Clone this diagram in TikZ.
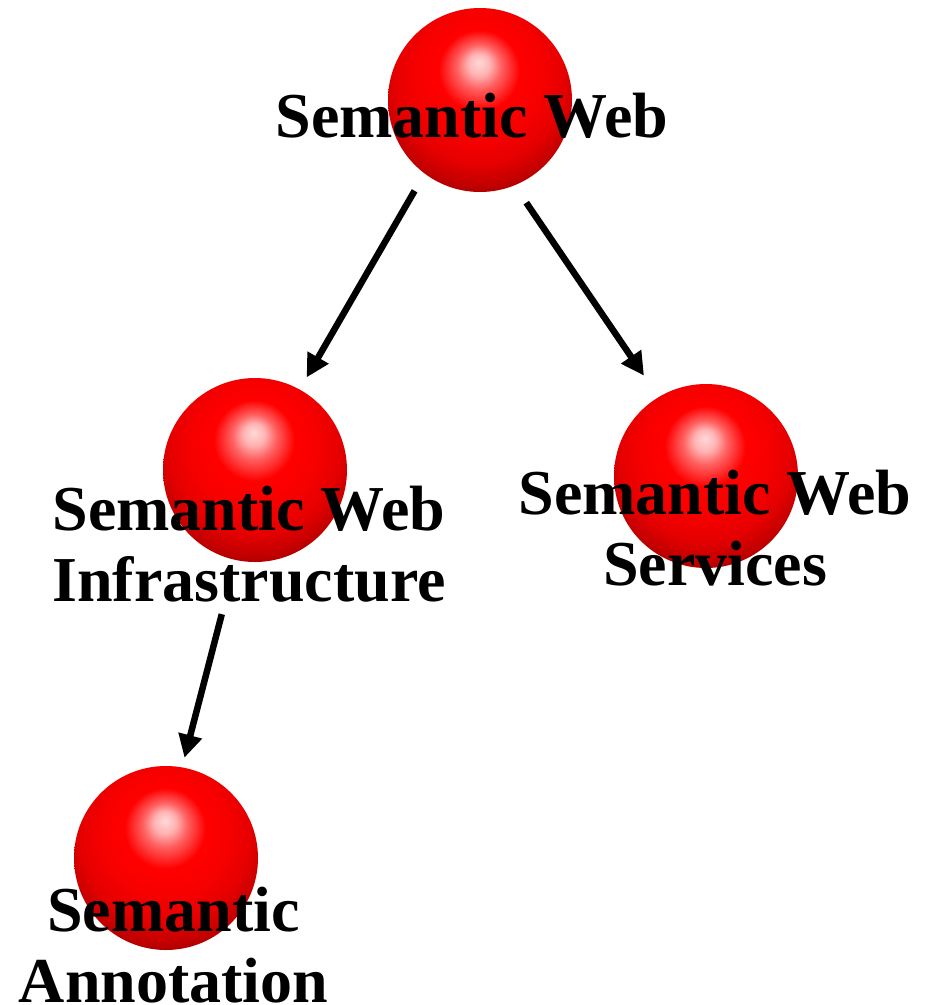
\documentclass[tikz,border=0pt]{standalone}
\usepackage{fontspec}
\setmainfont{Liberation Serif}
\usetikzlibrary{arrows.meta}
\pgfdeclareradialshading{redball}{\pgfpoint{-0.3bp}{10.3bp}}{%
  color(0bp)=(white!85!red); color(3bp)=(white!70!red);
  color(6bp)=(white!38!red); color(11bp)=(red);
  color(17bp)=(red!97!black); color(23bp)=(red!90!black);
  color(28bp)=(red!75!black); color(32bp)=(red!55!black);
  color(35bp)=(red!40!black); color(50bp)=(red!40!black)}
\tikzset{
    ball/.style={circle, minimum size=184pt, inner sep=0pt, outer sep=0pt,
    	shading=redball}
}
\tikzset{
    conceptlabel/.style={align=center, anchor=base, inner sep=0pt,
    	font=\fontsize{64}{71}\selectfont\bfseries}
}
\tikzset{
	every edge/.append style={line width=6.5pt, -{Triangle[length=23pt,width=23pt]}}
}

\begin{document}
\begin{tikzpicture}
	\useasboundingbox (0pt, 0pt) rectangle (934pt, -1005pt);
	\node (1) [ball] at (480pt, -100pt) {};
	\node (2) [ball] at (255pt, -470pt) {};
	\node (3) [ball] at (706pt, -476pt) {};
	\node (4) [ball] at (166pt, -858pt) {};

	% base of a two-line label is its second line
	\node (1l) [conceptlabel] at (472pt, -137pt) {Semantic Web};
	\node (2l) [conceptlabel] at (249pt, -601pt) {Semantic Web\\Infrastructure};
	\node (3l) [conceptlabel] at (715pt, -585pt) {Semantic Web\\Services};
	\node (4l) [conceptlabel] at (173.5pt, -1002pt) {Semantic\\Annotation};

	\draw (1.-127) edge [shorten <=20pt, shorten >=14pt] (2.61);
	\draw (1.-68) edge [shorten <=21pt, shorten >=26pt] (3.121);
	\draw (2.-102) edge [shorten <=56pt, shorten >=10pt] (4.80);
\end{tikzpicture}
\end{document}
